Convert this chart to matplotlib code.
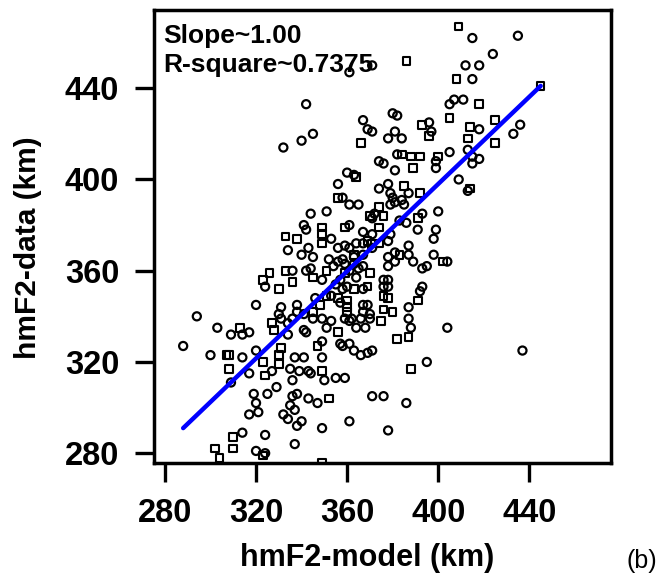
import matplotlib
matplotlib.use('Agg')
import matplotlib.pyplot as plt

plt.rcParams['font.family'] = ['Liberation Sans', 'DejaVu Sans']

# ---- data (hmF2 model vs data, km) ----
circ_x = [415, 435, 371, 361, 424, 412, 418, 415, 342, 407, 405, 411, 436, 433, 418, 413,
          332, 340, 345, 367, 369, 371, 380, 382, 396, 381, 384, 378, 397, 405, 415, 418,
          415, 409, 413, 374, 376, 382, 399, 399, 381, 360, 363, 356, 374, 378, 387,
          344, 351, 379, 385, 393, 400, 383, 386, 341, 342, 361, 367, 371, 399, 391, 379,
          353, 359, 361, 364, 378, 398, 334, 343, 340, 356, 367, 371, 381, 387, 387, 345,
          352, 356, 359, 378, 389, 398, 404, 324, 336, 342, 344, 349, 354, 358, 361, 364,
          367, 355, 357, 360, 367, 376, 378, 392, 393, 393, 395, 320, 294, 288, 303, 309,
          314, 317, 300, 314, 320, 309, 317, 327, 330, 331, 331, 334, 334, 336, 338, 338,
          341, 342, 345, 346, 349, 353, 361, 362, 367, 367, 370, 370, 387, 387, 388, 368,
          364, 357, 358, 361, 363, 366, 369, 371, 349, 341, 337, 349, 335, 339, 343, 344,
          350, 355, 359, 336, 329, 325, 319, 320, 321, 317, 336, 338, 343, 347, 332, 335,
          337, 334, 338, 340, 349, 361, 371, 376, 386, 395, 404, 437, 378, 314, 324, 320,
          324, 337, 363, 358, 357, 359, 369, 366, 353, 351, 341, 376, 378, 381, 378, 365,
          363, 379, 358, 361, 365, 380, 381, 384, 372, 371, 367]
circ_y = [462, 463, 450, 447, 455, 450, 450, 444, 433, 435, 433, 435, 424, 420, 422, 413,
          414, 417, 420, 426, 422, 421, 429, 428, 425, 421, 418, 418, 421, 412, 410, 409,
          407, 400, 395, 408, 407, 411, 408, 405, 404, 403, 402, 398, 396, 398, 394,
          385, 386, 389, 389, 385, 386, 382, 381, 380, 378, 380, 377, 376, 378, 378, 376,
          374, 371, 370, 372, 373, 374, 369, 370, 367, 370, 367, 370, 368, 371, 367, 366,
          365, 364, 363, 366, 364, 367, 364, 353, 360, 360, 361, 356, 362, 365, 360, 357,
          362, 354, 356, 353, 352, 353, 356, 351, 353, 361, 362, 345, 340, 327, 335, 332,
          332, 333, 323, 322, 325, 311, 315, 316, 341, 344, 339, 332, 337, 339, 342, 345,
          341, 333, 339, 348, 339, 349, 338, 339, 345, 342, 341, 339, 344, 339, 335, 335,
          335, 328, 327, 328, 325, 323, 324, 325, 329, 322, 322, 322, 317, 316, 316, 315,
          312, 313, 313, 312, 309, 306, 306, 302, 298, 297, 305, 306, 304, 302, 297, 301,
          299, 295, 292, 294, 291, 294, 305, 305, 302, 320, 335, 325, 290, 289, 288, 281,
          280, 284, 366, 352, 346, 339, 345, 339, 338, 335, 334, 356, 353, 364, 362, 361,
          363, 394, 392, 389, 389, 392, 390, 391, 385, 383, 372]

sq_x = [409, 386, 408, 418, 445, 425, 405, 414, 413, 425, 366, 393, 396, 414, 384, 388,
        392, 400, 389, 364, 385, 392,
        370, 374, 376, 391, 349, 349, 359, 374, 333, 338, 349, 369, 371, 374, 363, 383,
        402, 326, 323, 330, 333, 336, 345, 351, 359, 370, 363, 369, 376, 378, 391, 313,
        307, 308, 308, 323, 324, 330, 331, 330, 327, 328, 345, 348, 351, 356, 360, 360,
        360, 376, 380, 387, 382, 375, 356, 347, 349, 352, 388, 310, 310, 302, 304, 323,
        349, 356]
sq_y = [467, 452, 444, 433, 441, 426, 427, 423, 418, 416, 416, 424, 419, 396, 411, 410,
        410, 410, 405, 401, 397, 394,
        384, 388, 384, 383, 379, 376, 379, 379, 375, 374, 372, 373, 372, 372, 367, 367,
        364, 359, 356, 352, 360, 355, 357, 360, 359, 359, 352, 353, 349, 348, 347, 335,
        323, 323, 317, 320, 314, 323, 326, 319, 337, 334, 342, 345, 349, 348, 347, 344,
        342, 343, 342, 331, 330, 338, 333, 327, 316, 304, 317, 287, 282, 282, 278, 279,
        276, 392]

fit_x = [288, 445]
fit_y = [291, 441]

x_ticks = [280, 320, 360, 400, 440]
y_ticks = [280, 320, 360, 400, 440]
slope_text = 'Slope~1.00'
r2_text = 'R-square~0.7375'
x_label = 'hmF2-model (km)'
y_label = 'hmF2-data (km)'
panel_tag = '(b)'

# ---- figure ----
fig = plt.figure(figsize=(6.61, 5.83), dpi=100)
ax = fig.add_axes([0.2330, 0.2058, 0.6921, 0.7779])

ax.scatter(circ_x, circ_y, s=34, marker='o', facecolors='none',
           edgecolors='black', linewidths=1.6, zorder=2)
ax.scatter(sq_x, sq_y, s=30, marker='s', facecolors='none',
           edgecolors='black', linewidths=1.5, zorder=2)
ax.plot(fit_x, fit_y, color='#0000ff', lw=3.2, solid_capstyle='round', zorder=3)

ax.set_xlim(275.2, 476.1)
ax.set_ylim(275.7, 474.5)
ax.set_xticks(x_ticks)
ax.set_yticks(y_ticks)
ax.tick_params(direction='out', length=14, width=2.4, pad=11, labelsize=23.5)
for lab in ax.get_xticklabels() + ax.get_yticklabels():
    lab.set_fontweight('bold')
for sp in ax.spines.values():
    sp.set_linewidth(2.5)

ax.set_xlabel(x_label, fontsize=22, fontweight='bold')
ax.set_ylabel(y_label, fontsize=21.5, fontweight='bold')
ax.xaxis.set_label_coords(0.4656, -0.176)
ax.yaxis.set_label_coords(-0.245, 0.475)

ax.text(0.0197, 0.926, slope_text, transform=ax.transAxes, fontsize=19,
        fontweight='bold', va='baseline', ha='left')
ax.text(0.0197, 0.862, r2_text, transform=ax.transAxes, fontsize=19,
        fontweight='bold', va='baseline', ha='left')

fig.text(627 / 661, 1 - 568 / 583, panel_tag, fontsize=18, va='baseline', ha='left')

fig.savefig('out.png', dpi=100)
